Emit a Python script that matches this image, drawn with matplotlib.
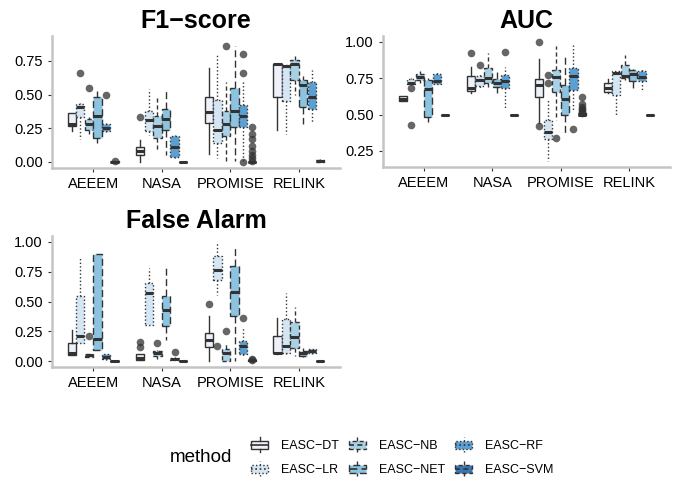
import matplotlib
matplotlib.use('Agg')
import matplotlib.pyplot as plt
from matplotlib.patches import Patch, Rectangle
from matplotlib.lines import Line2D
from matplotlib.legend_handler import HandlerBase

plt.rcParams['font.family'] = ['Liberation Sans', 'DejaVu Sans']

groups = ['AEEEM', 'NASA', 'PROMISE', 'RELINK']
methods = ['EASC−DT', 'EASC−LR', 'EASC−NB', 'EASC−NET', 'EASC−RF', 'EASC−SVM']
colors = ['#eef1fa', '#d4e5f3', '#a9d1e6', '#8cc3e0', '#5c9fd2', '#3a75b4']
styles = ['-', (0, (1, 1.6)), (0, (3, 2)), (0, (5, 2.5)), (0, (1, 1.6)), (0, (3, 2))]

# box statistics, one row per group, one value per method
f1_lo = [[0.23, 0.17, 0.21, 0.14, 0.22, 0.00],
         [0.00, 0.20, 0.08, 0.05, 0.03, 0.00],
         [0.06, 0.03, 0.01, 0.01, 0.01, 0.00],
         [0.24, 0.21, 0.50, 0.28, 0.29, 0.00]]
f1_q1 = [[0.27, 0.33, 0.24, 0.18, 0.23, 0.00],
         [0.05, 0.23, 0.18, 0.24, 0.04, 0.00],
         [0.29, 0.14, 0.19, 0.26, 0.26, 0.00],
         [0.48, 0.45, 0.61, 0.41, 0.39, 0.00]]
f1_med = [[0.28, 0.41, 0.28, 0.34, 0.25, 0.00],
          [0.08, 0.31, 0.27, 0.32, 0.11, 0.00],
          [0.37, 0.24, 0.28, 0.38, 0.34, 0.00],
          [0.73, 0.71, 0.73, 0.57, 0.48, 0.01]]
f1_q3 = [[0.36, 0.43, 0.32, 0.48, 0.28, 0.005],
         [0.11, 0.38, 0.34, 0.39, 0.19, 0.00],
         [0.48, 0.46, 0.38, 0.55, 0.42, 0.003],
         [0.73, 0.72, 0.76, 0.61, 0.59, 0.015]]
f1_hi = [[0.36, 0.44, 0.33, 0.53, 0.29, 0.01],
         [0.16, 0.54, 0.48, 0.53, 0.20, 0.00],
         [0.70, 0.80, 0.59, 0.86, 0.61, 0.005],
         [0.73, 0.72, 0.79, 0.64, 0.68, 0.02]]
f1_out = [[[], [0.66], [0.55], [], [0.50], [0.005]],
          [[0.33], [], [], [], [], []],
          [[], [], [0.86], [], [0.80, 0.66, 0.00],
           [0.26, 0.21, 0.17, 0.12, 0.08, 0.05, 0.03, 0.01]],
          [[], [], [], [], [], []]]

auc_lo = [[0.59, 0.70, 0.72, 0.45, 0.71, 0.50],
          [0.65, 0.68, 0.69, 0.65, 0.54, 0.50],
          [0.44, 0.18, 0.46, 0.37, 0.53, 0.50],
          [0.65, 0.50, 0.74, 0.68, 0.67, 0.50]]
auc_q1 = [[0.594, 0.711, 0.74, 0.485, 0.71, 0.50],
          [0.665, 0.693, 0.716, 0.688, 0.681, 0.50],
          [0.619, 0.335, 0.658, 0.497, 0.67, 0.50],
          [0.658, 0.635, 0.75, 0.728, 0.73, 0.50]]
auc_med = [[0.605, 0.72, 0.758, 0.675, 0.728, 0.50],
           [0.68, 0.739, 0.75, 0.716, 0.728, 0.50],
           [0.705, 0.38, 0.758, 0.605, 0.762, 0.50],
           [0.68, 0.785, 0.767, 0.78, 0.76, 0.50]]
auc_q3 = [[0.628, 0.744, 0.78, 0.739, 0.78, 0.50],
          [0.767, 0.762, 0.82, 0.746, 0.774, 0.50],
          [0.746, 0.462, 0.808, 0.705, 0.82, 0.51],
          [0.716, 0.797, 0.843, 0.804, 0.80, 0.50]]
auc_hi = [[0.63, 0.75, 0.80, 0.75, 0.79, 0.50],
          [0.83, 0.78, 0.92, 0.80, 0.83, 0.50],
          [0.88, 0.60, 0.97, 0.91, 0.99, 0.51],
          [0.745, 0.80, 0.91, 0.81, 0.81, 0.50]]
auc_out = [[[], [0.68, 0.43], [], [], [], []],
           [[0.92], [0.84], [], [], [0.93], []],
           [[1.0, 0.42], [0.77, 0.72], [0.34], [], [0.40],
            [0.62, 0.57, 0.55, 0.54, 0.53, 0.52, 0.51]],
           [[], [], [], [], [], []]]

fa_lo = [[0.047, 0.15, 0.03, 0.089, 0.01, 0.0],
         [0.008, 0.30, 0.014, 0.18, 0.008, 0.0],
         [0.0, 0.556, 0.0, 0.0, 0.04, 0.0],
         [0.06, 0.06, 0.04, 0.03, 0.06, 0.0]]
fa_q1 = [[0.047, 0.153, 0.036, 0.089, 0.014, 0.0],
         [0.008, 0.306, 0.042, 0.292, 0.008, 0.0],
         [0.119, 0.68, 0.0, 0.38, 0.056, 0.0],
         [0.064, 0.069, 0.11, 0.042, 0.064, 0.0]]
fa_med = [[0.069, 0.208, 0.047, 0.186, 0.036, 0.0],
          [0.028, 0.575, 0.069, 0.43, 0.02, 0.0],
          [0.175, 0.764, 0.064, 0.583, 0.13, 0.005],
          [0.069, 0.125, 0.2, 0.069, 0.083, 0.0]]
fa_q3 = [[0.153, 0.547, 0.056, 0.903, 0.056, 0.0],
         [0.056, 0.658, 0.083, 0.542, 0.028, 0.0],
         [0.236, 0.88, 0.103, 0.80, 0.167, 0.01],
         [0.214, 0.35, 0.325, 0.083, 0.097, 0.0]]
fa_hi = [[0.264, 0.875, 0.06, 0.903, 0.06, 0.0],
         [0.056, 0.778, 0.09, 0.792, 0.03, 0.0],
         [0.375, 1.0, 0.14, 0.95, 0.29, 0.01],
         [0.36, 0.57, 0.45, 0.11, 0.10, 0.0]]
fa_out = [[[], [], [0.21], [], [], []],
          [[0.16, 0.12], [], [0.15], [], [0.08], []],
          [[0.48], [0.13], [0.25], [], [0.36], [0.02, 0.01]],
          [[], [], [], [], [], []]]


class BoxKey(HandlerBase):
    def create_artists(self, legend, orig, xd, yd, w, h, fs, trans):
        x0, y0 = -xd, -yd
        ls = orig.get_linestyle()
        rect = Rectangle((x0 + 0.05 * w, y0 + 0.2 * h), 0.9 * w, 0.6 * h,
                         facecolor=orig.get_facecolor(), edgecolor='#333333',
                         lw=1, linestyle=ls, transform=trans)
        med = Line2D([x0 + 0.05 * w, x0 + 0.95 * w], [y0 + 0.5 * h] * 2,
                     color='#333333', lw=1.2, linestyle=ls, transform=trans)
        wt = Line2D([x0 + 0.5 * w] * 2, [y0 + 0.8 * h, y0 + 1.05 * h],
                    color='#333333', lw=1, linestyle=ls, transform=trans)
        wb = Line2D([x0 + 0.5 * w] * 2, [y0 - 0.05 * h, y0 + 0.2 * h],
                    color='#333333', lw=1, linestyle=ls, transform=trans)
        return [rect, med, wt, wb]


def draw_panel(ax, lo, q1, med, q3, hi, out, title, ylim, yticks):
    for j in range(len(methods)):
        stats = []
        for i in range(len(groups)):
            stats.append(dict(whislo=lo[i][j], q1=q1[i][j], med=med[i][j],
                              q3=q3[i][j], whishi=hi[i][j], fliers=out[i][j]))
        pos = [i + 1 - 0.3125 + 0.125 * j for i in range(len(groups))]
        ax.bxp(stats, positions=pos, widths=0.12, patch_artist=True,
               showcaps=False, manage_ticks=False,
               boxprops=dict(facecolor=colors[j], edgecolor='#333333',
                             linewidth=1, linestyle=styles[j]),
               whiskerprops=dict(color='#333333', linewidth=1, linestyle=styles[j]),
               medianprops=dict(color='#333333', linewidth=2.2, solid_capstyle='butt'),
               flierprops=dict(marker='o', markerfacecolor='#333333',
                               markeredgecolor='none', markersize=5.5, alpha=0.75))
    ax.set_xlim(0.4, 4.6)
    ax.set_ylim(*ylim)
    ax.set_xticks(range(1, 5))
    ax.set_xticklabels(groups)
    ax.set_yticks(yticks)
    ax.set_yticklabels(['%.2f' % v for v in yticks])
    ax.set_title(title, fontsize=18, fontweight='bold', pad=6)
    for s in ['top', 'right']:
        ax.spines[s].set_visible(False)
    for s in ['left', 'bottom']:
        ax.spines[s].set_color('#c4c4c4')
        ax.spines[s].set_linewidth(1.8)
    ax.tick_params(colors='#333333', length=3, width=0.8, labelsize=10.5,
                   labelcolor='black')


W, H = 691, 479
fig = plt.figure(figsize=(W / 100, H / 100), dpi=100)

ax1 = fig.add_axes([52 / W, (H - 168) / H, 288 / W, 132 / H])
ax2 = fig.add_axes([383 / W, (H - 167) / H, 287 / W, 131 / H])
ax3 = fig.add_axes([52 / W, (H - 367) / H, 288 / W, 131 / H])

draw_panel(ax1, f1_lo, f1_q1, f1_med, f1_q3, f1_hi, f1_out, 'F1−score',
           (-0.045, 0.935), [0, 0.25, 0.5, 0.75])
draw_panel(ax2, auc_lo, auc_q1, auc_med, auc_q3, auc_hi, auc_out, 'AUC',
           (0.139, 1.04), [0.25, 0.5, 0.75, 1.0])
draw_panel(ax3, fa_lo, fa_q1, fa_med, fa_q3, fa_hi, fa_out, 'False Alarm',
           (-0.05, 1.05), [0, 0.25, 0.5, 0.75, 1.0])

handles = [Patch(facecolor=colors[j], linestyle=styles[j]) for j in range(len(methods))]
fig.legend(handles, methods, ncol=3, loc='center', bbox_to_anchor=(402 / W, 1 - 457 / H),
           frameon=False, fontsize=9, handler_map={Patch: BoxKey()},
           handlelength=1.5, handleheight=1.3, labelspacing=0.8,
           columnspacing=0.7, handletextpad=1.0)
fig.text(170 / W, 1 - 458 / H, 'method', fontsize=13.5, va='center', ha='left')

fig.savefig('out.png', dpi=100)
